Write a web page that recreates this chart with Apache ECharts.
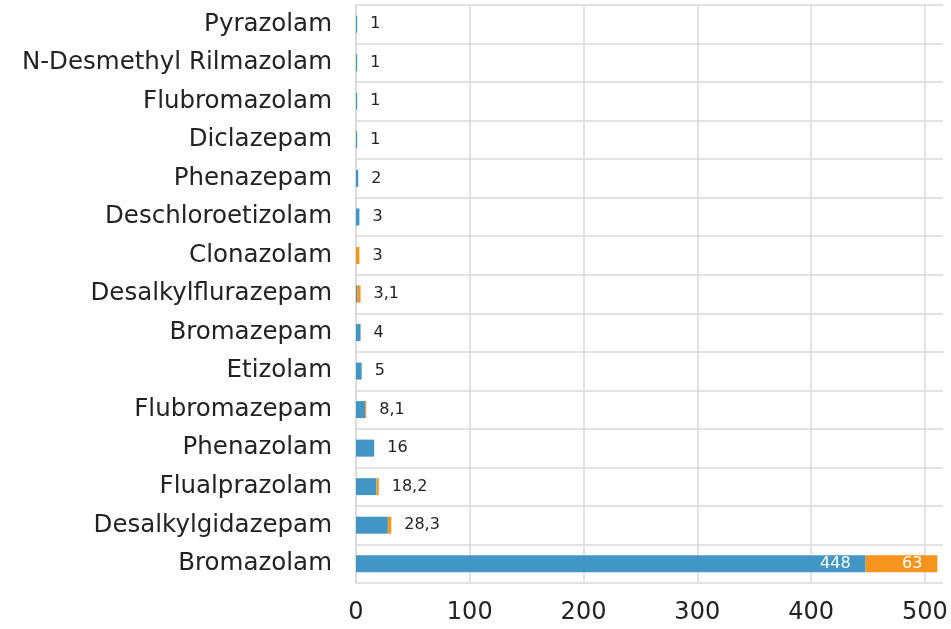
<!DOCTYPE html>
<html><head><meta charset="utf-8">
<script src="https://cdn.jsdelivr.net/npm/echarts@6/dist/echarts.min.js"></script>
<style>html,body{margin:0;padding:0;background:#fff}#c{width:951px;height:629px}</style>
</head><body><div id="c"></div>
<script>
const categories = ["Pyrazolam","N-Desmethyl Rilmazolam","Flubromazolam","Diclazepam","Phenazepam","Deschloroetizolam","Clonazolam","Desalkylflurazepam","Bromazepam","Etizolam","Flubromazepam","Phenazolam","Flualprazolam","Desalkylgidazepam","Bromazolam"];
const blueValues   = [1,1,1,1,2,3,0,1,4,5,8,16,18,28,448];
const orangeValues = [0,0,0,0,0,0,3,3,0,0,1,0,2,3,63];
const outerLabels  = ["1","1","1","1","2","3","3","3,1","4","5","8,1","16","18,2","28,3",""];
const insideRow = "Bromazolam";
const xTicks = [0,100,200,300,400,500];
const xMax = 516;

const FONT = "DejaVu Sans";
const chart = echarts.init(document.getElementById('c'), null, {renderer:'canvas'});
chart.setOption({
  animation:false,
  textStyle:{fontFamily:FONT},
  grid:{left:356,right:8,top:5,bottom:46,containLabel:false},
  xAxis:{type:'value',min:0,max:xMax,interval:100,
    axisLine:{show:false},axisTick:{show:false},
    axisLabel:{fontSize:24,color:'#222',margin:18,showMaxLabel:false,fontFamily:FONT,
      formatter:v=>xTicks.includes(v)?String(v):''},
    splitLine:{show:true,showMaxLine:false,lineStyle:{color:'#d9d9d9',width:1.5}}},
  yAxis:{type:'category',data:categories,inverse:true,
    axisLine:{show:true,lineStyle:{color:'#d9d9d9',width:1.5}},
    axisTick:{show:false},
    axisLabel:{fontSize:24.5,color:'#222',margin:24,fontFamily:FONT},
    splitLine:{show:true,lineStyle:{color:'#d9d9d9',width:1.5}}},
  series:[
    {type:'bar',stack:'s',barWidth:17,itemStyle:{color:'#4296C4'},
     data:blueValues.map((v,i)=>({value:v,label:{show:categories[i]===insideRow}})),
     label:{position:'insideRight',distance:15,color:'#fff',fontSize:16,fontFamily:FONT}},
    {type:'bar',stack:'s',barWidth:17,itemStyle:{color:'#F7941D'},
     data:orangeValues.map((v,i)=>({value:v,label:{show:categories[i]===insideRow}})),
     label:{position:'insideRight',distance:15,color:'#fff',fontSize:16,fontFamily:FONT}},
    {type:'bar',stack:'s',barWidth:17,itemStyle:{color:'transparent'},
     data:outerLabels.map(()=>0),
     label:{show:true,position:'right',distance:13,color:'#222',fontSize:16,fontFamily:FONT,
       formatter:p=>outerLabels[p.dataIndex]}}
  ]
});
</script></body></html>
